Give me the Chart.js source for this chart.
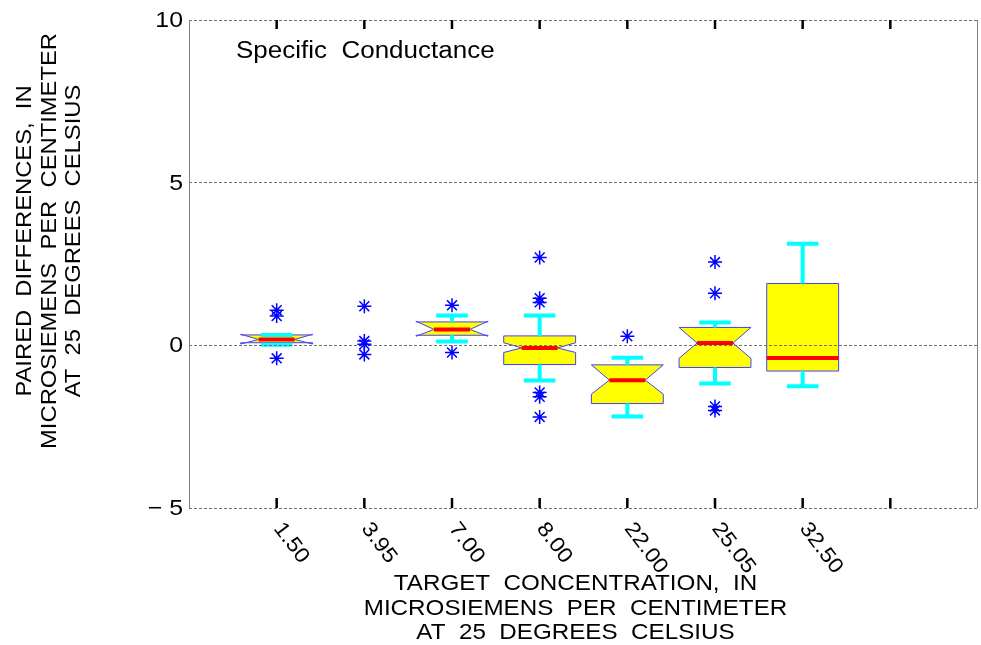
<!DOCTYPE html>
<html>
<head>
<meta charset="utf-8">
<script src="https://cdn.jsdelivr.net/npm/chart.js@4.4.1/dist/chart.umd.min.js"></script>
<style>
  html, body { margin: 0; padding: 0; background: #fff; }
  #wrap { width: 981px; height: 645px; }
</style>
</head>
<body>
<div id="wrap"><canvas id="chart"></canvas></div>
<script>
// values
const categories  = ['1.50', '3.95', '7.00', '8.00', '22.00', '25.05', '32.50'];
const whiskerLow  = [0.02, null, 0.12, -1.08, -2.19, -1.17, -1.26];
const quartile1   = [0.08, null, 0.31, -0.59, -1.79, -0.68, -0.79];
const medians     = [0.18, null, 0.49, -0.08, -1.07, 0.07, -0.39];
const quartile3   = [0.32, null, 0.72, 0.29, -0.60, 0.55, 1.90];
const whiskerHigh = [0.32, null, 0.92, 0.92, -0.38, 0.70, 3.12];
const notchLow    = [0.04, null, 0.28, -0.22, -1.50, -0.40, null];
const notchHigh   = [0.34, null, 0.74, 0.08, -0.60, 0.55, null];
const outliers = [
  [1.08, 0.90, -0.40],
  [1.20, 0.13, 0.03, -0.28],
  [1.23, -0.22],
  [2.70, 1.45, 1.32, -1.45, -1.58, -2.20],
  [0.28],
  [2.56, 1.60, -1.88, -2.00],
  []
];
const yTicks = [-5, 0, 5, 10];
const xTickValues = [1, 2, 3, 4, 5, 6, 7, 8];

const plotTitle = 'Specific  Conductance';
const xTitle = ['TARGET  CONCENTRATION,  IN', 'MICROSIEMENS  PER  CENTIMETER', 'AT  25  DEGREES  CELSIUS'];
const yTitle = ['PAIRED  DIFFERENCES,  IN', 'MICROSIEMENS  PER  CENTIMETER', 'AT  25  DEGREES  CELSIUS'];

const FONT = '"Liberation Sans", Arial, sans-serif';

function txt(ctx, s, x, y, size, align, baseline, rot, stretch) {
  ctx.save();
  ctx.translate(x, y);
  if (rot) ctx.rotate(rot);
  ctx.scale(stretch || 1.1, 1);
  ctx.font = size + 'px ' + FONT;
  ctx.textAlign = align;
  ctx.textBaseline = baseline;
  ctx.fillStyle = '#000';
  ctx.fillText(s, 0, 0);
  ctx.restore();
}

const boxPlugin = {
  id: 'boxes',
  beforeDraw(chart) {
    const { ctx, scales: { x, y } } = chart;
    const unit = x.getPixelForValue(1) - x.getPixelForValue(0);
    const half = unit * 0.41, inset = half / 2, cap = unit * 0.18;
    ctx.save();
    categories.forEach((c, i) => {
      if (medians[i] == null) return;
      const cx = x.getPixelForValue(i + 1);
      const L = cx - half, R = cx + half;
      const q1 = y.getPixelForValue(quartile1[i]);
      const q3 = y.getPixelForValue(quartile3[i]);
      const md = y.getPixelForValue(medians[i]);
      const notched = notchLow[i] != null;
      ctx.beginPath();
      if (notched) {
        const n1 = y.getPixelForValue(notchLow[i]);
        const n2 = y.getPixelForValue(notchHigh[i]);
        ctx.moveTo(L, q1); ctx.lineTo(L, n1); ctx.lineTo(L + inset, md);
        ctx.lineTo(L, n2); ctx.lineTo(L, q3); ctx.lineTo(R, q3);
        ctx.lineTo(R, n2); ctx.lineTo(R - inset, md); ctx.lineTo(R, n1);
        ctx.lineTo(R, q1);
      } else {
        ctx.rect(L, q3, R - L, q1 - q3);
      }
      ctx.closePath();
      ctx.fillStyle = '#ffff00';
      ctx.fill();
      ctx.strokeStyle = '#4040ff';
      ctx.lineWidth = 1;
      ctx.stroke();

      // median
      const mh = notched ? half - inset : half;
      ctx.beginPath();
      ctx.moveTo(cx - mh, md); ctx.lineTo(cx + mh, md);
      ctx.strokeStyle = '#ff0000';
      ctx.lineWidth = 4;
      ctx.stroke();

      // whiskers
      const wl = y.getPixelForValue(whiskerLow[i]);
      const wh = y.getPixelForValue(whiskerHigh[i]);
      ctx.strokeStyle = '#00ffff';
      ctx.lineWidth = 4;
      ctx.beginPath();
      ctx.moveTo(cx, q3); ctx.lineTo(cx, wh);
      ctx.moveTo(cx, q1); ctx.lineTo(cx, wl);
      ctx.moveTo(cx - cap, wh); ctx.lineTo(cx + cap, wh);
      ctx.moveTo(cx - cap, wl); ctx.lineTo(cx + cap, wl);
      ctx.stroke();
    });
    ctx.restore();
  },
  afterDraw(chart) {
    const { ctx, chartArea: a, scales: { x, y } } = chart;
    ctx.save();
    // side frame
    ctx.strokeStyle = '#808080';
    ctx.lineWidth = 1;
    ctx.beginPath();
    ctx.moveTo(a.left + 0.5, a.top); ctx.lineTo(a.left + 0.5, a.bottom);
    ctx.moveTo(a.right - 0.5, a.top); ctx.lineTo(a.right - 0.5, a.bottom);
    ctx.stroke();
    // inward ticks top and bottom
    ctx.strokeStyle = '#000';
    ctx.lineWidth = 2.5;
    ctx.beginPath();
    xTickValues.forEach(v => {
      const px = x.getPixelForValue(v);
      ctx.moveTo(px, a.bottom); ctx.lineTo(px, a.bottom - 10);
      ctx.moveTo(px, a.top); ctx.lineTo(px, a.top + 9);
    });
    ctx.stroke();
    ctx.restore();

    // y tick labels
    yTicks.forEach(v => {
      const s = v < 0 ? '\u2212 ' + Math.abs(v) : String(v);
      txt(ctx, s, a.left - 6, y.getPixelForValue(v) + 1, 22, 'right', 'middle', 0, 1.13);
    });
    // x tick labels, rotated clockwise
    categories.forEach((c, i) => {
      txt(ctx, c, x.getPixelForValue(i + 1) + 1, a.bottom + 17, 21, 'left', 'middle', 53 * Math.PI / 180, 1.1);
    });
    // titles
    txt(ctx, plotTitle, a.left + 47, a.top + 32, 23, 'left', 'middle', 0, 1.13);
    const xc = (a.left + a.right) / 2 - 8;
    xTitle.forEach((s, k) => txt(ctx, s, xc, a.bottom + 76 + k * 24.5, 22, 'center', 'middle', 0, 1.1));
    const yc = (a.top + a.bottom) / 2 - 23;
    yTitle.forEach((s, k) => txt(ctx, s, 25 + k * 24.5, yc, 22, 'center', 'middle', -Math.PI / 2, 1.08));
  }
};

const outlierPoints = outliers.flatMap((vals, i) => vals.map(v => ({ x: i + 1, y: v })));

new Chart(document.getElementById('chart'), {
  type: 'scatter',
  data: {
    datasets: [{
      label: 'outliers',
      data: outlierPoints,
      pointStyle: 'star',
      pointRadius: 7,
      pointBorderWidth: 1.5,
      borderColor: '#0000ff',
      backgroundColor: '#0000ff'
    }]
  },
  options: {
    responsive: true,
    maintainAspectRatio: false,
    animation: false,
    layout: { autoPadding: false, padding: { top: 20, right: 3, left: 0, bottom: 0 } },
    plugins: { legend: { display: false }, tooltip: { enabled: false } },
    scales: {
      x: {
        type: 'linear', min: 0, max: 9,
        ticks: { display: false },
        grid: { display: false },
        border: { display: false },
        afterFit: s => { s.height = 137; }
      },
      y: {
        min: -5, max: 10,
        ticks: { display: false, stepSize: 5 },
        grid: { color: '#707070', lineWidth: 1, drawTicks: false },
        border: { display: false, dash: [3, 2] },
        afterFit: s => { s.width = 189; }
      }
    }
  },
  plugins: [boxPlugin]
});
</script>
</body>
</html>
